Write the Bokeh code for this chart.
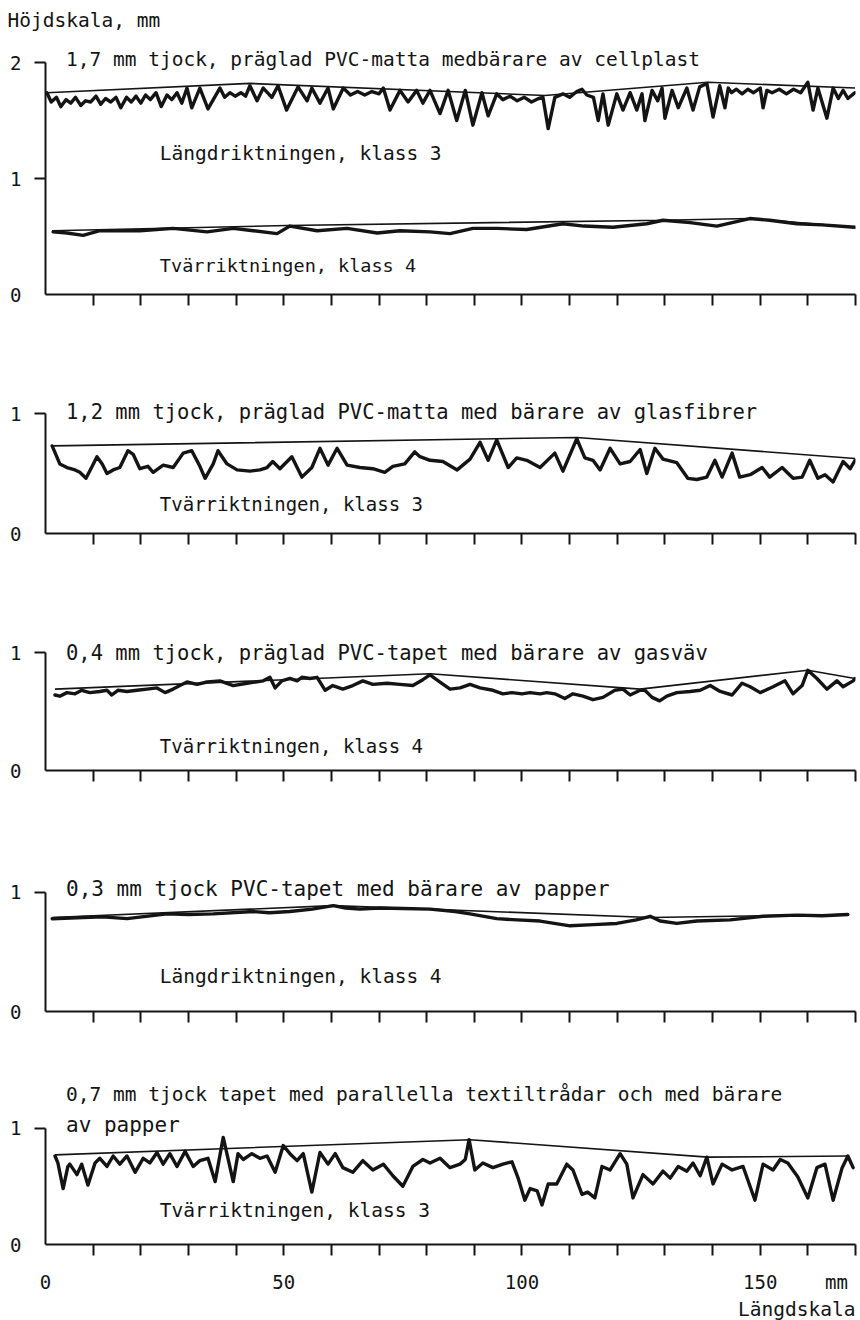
from bokeh.plotting import figure
from bokeh.models import Range1d, LinearAxis, FixedTicker, Label, Title
from bokeh.layouts import column
from bokeh.embed import file_html
from bokeh.resources import INLINE

INK = "#141414"
FONT = "DejaVu Sans Mono"
FS = "19px"

# ---------------------------------------------------------------------------
# Profile data: (length along sample in mm, height in mm)
# ---------------------------------------------------------------------------

# 1,7 mm PVC mat with foam backing - lengthwise profile (class 3)
mat17_long = [(0.3,1.74),(1.2,1.66),(2.3,1.70),(3.2,1.62),(4.3,1.68),(5.3,1.65),(6.3,1.70),(7.4,1.63),
    (8.4,1.67),(9.5,1.66),(10.6,1.71),(11.6,1.64),(12.6,1.69),(13.7,1.66),(14.8,1.70),(15.8,1.61),
    (17.0,1.70),(18.0,1.66),(19.0,1.71),(20.0,1.65),(21.0,1.72),(22.0,1.68),(23.2,1.74),(24.3,1.62),
    (25.5,1.72),(26.5,1.68),(27.6,1.74),(28.6,1.65),(29.7,1.78),(30.7,1.61),(32.4,1.78),(34.1,1.60),
    (36.6,1.78),(37.6,1.70),(38.7,1.74),(39.8,1.71),(41.0,1.74),(42.0,1.71),(42.9,1.80),(44.4,1.67),
    (45.7,1.78),(47.5,1.70),(48.8,1.80),(50.6,1.59),(53.0,1.79),(54.9,1.67),(55.9,1.78),(57.6,1.65),
    (59.3,1.78),(60.4,1.60),(62.5,1.78),(64.0,1.72),(65.5,1.75),(67.0,1.72),(68.5,1.75),(70.0,1.73),
    (70.9,1.78),(72.3,1.59),(74.4,1.76),(76.1,1.66),(77.9,1.76),(79.2,1.65),(80.7,1.76),(82.8,1.56),
    (84.5,1.76),(86.3,1.50),(88.1,1.76),(89.7,1.46),(91.6,1.74),(92.9,1.54),(94.7,1.73),(96.0,1.68),
    (97.5,1.71),(99.0,1.67),(100.5,1.70),(102.0,1.66),(103.5,1.69),(104.4,1.70),(105.5,1.43),(106.9,1.70),
    (108.6,1.73),(110.0,1.70),(111.5,1.75),(112.6,1.77),(113.6,1.72),(115.0,1.70),(116.0,1.50),(117.0,1.73),
    (118.1,1.46),(119.9,1.73),(121.2,1.59),(122.7,1.74),(124.1,1.59),(125.2,1.73),(125.8,1.50),(127.3,1.76),
    (128.5,1.67),(129.4,1.78),(130.0,1.52),(131.5,1.76),(132.8,1.61),(134.6,1.78),(135.9,1.59),(137.3,1.79),
    (138.8,1.82),(140.1,1.53),(141.5,1.80),(142.6,1.61),(143.3,1.78),(144.0,1.74),(145.0,1.77),(146.2,1.73),
    (147.4,1.77),(148.6,1.74),(150.0,1.78),(150.6,1.61),(151.4,1.76),(152.5,1.74),(154.0,1.77),(155.5,1.73),
    (157.0,1.77),(158.5,1.74),(160.0,1.83),(161.1,1.59),(162.1,1.78),(164.0,1.52),(165.3,1.78),(166.4,1.69),
    (167.4,1.76),(168.4,1.69),(169.9,1.74)]
mat17_long_env = [(0.3,1.74),(42.9,1.82),(104.8,1.716),(139.0,1.83),(169.9,1.78)]

# 1,7 mm PVC mat - crosswise profile (class 4)
mat17_cross = [(1.6,0.54),(4.5,0.53),(7.9,0.51),(11.4,0.55),(19.8,0.55),(26.8,0.57),(33.9,0.54),
    (39.4,0.57),(43.6,0.55),(48.6,0.525),(51.3,0.59),(57.0,0.55),(63.3,0.57),(69.6,0.53),(74.4,0.55),
    (80.7,0.54),(84.9,0.525),(89.7,0.57),(94.7,0.57),(101.0,0.56),(108.6,0.61),(113.0,0.59),(119.1,0.58),
    (126.2,0.61),(129.6,0.64),(135.3,0.62),(140.9,0.59),(147.8,0.655),(152.0,0.64),(157.7,0.61),
    (163.0,0.60),(169.9,0.58)]
mat17_cross_env = [(1.4,0.55),(50.7,0.595),(129.6,0.64),(147.8,0.655),(169.9,0.58)]

# 1,2 mm PVC mat with glass fibre backing - crosswise (class 3)
mat12_cross = [(1.4,0.73),(3.0,0.58),(4.5,0.55),(6.2,0.53),(7.2,0.51),(8.5,0.46),(9.8,0.56),(10.8,0.64),
    (11.9,0.58),(12.9,0.50),(14.2,0.53),(15.6,0.55),(17.3,0.69),(18.4,0.66),(19.8,0.54),(21.5,0.56),
    (22.6,0.51),(24.7,0.57),(26.8,0.55),(28.9,0.67),(30.7,0.69),(32.4,0.56),(33.5,0.46),(35.2,0.58),
    (36.2,0.69),(38.1,0.58),(40.2,0.53),(42.9,0.52),(45.0,0.53),(46.5,0.55),(47.7,0.60),(49.2,0.54),
    (51.7,0.64),(53.8,0.47),(55.9,0.55),(57.6,0.71),(59.3,0.57),(61.2,0.71),(63.3,0.57),(66.0,0.55),
    (68.7,0.54),(71.2,0.51),(72.9,0.56),(75.4,0.58),(77.5,0.68),(78.6,0.64),(80.7,0.61),(83.4,0.60),
    (86.4,0.53),(89.1,0.62),(91.2,0.76),(92.9,0.61),(94.7,0.78),(97.1,0.55),(98.9,0.63),(101.0,0.61),
    (103.8,0.55),(106.9,0.67),(108.6,0.52),(111.5,0.79),(113.2,0.63),(114.9,0.61),(116.4,0.53),(118.5,0.71),
    (120.6,0.58),(122.7,0.60),(124.8,0.70),(126.2,0.50),(127.9,0.71),(129.6,0.62),(132.5,0.59),(134.8,0.46),
    (136.7,0.45),(138.8,0.47),(140.5,0.61),(142.0,0.47),(144.1,0.67),(145.7,0.47),(147.9,0.49),(150.4,0.55),
    (152.0,0.47),(154.6,0.55),(156.9,0.46),(158.8,0.47),(160.4,0.61),(162.1,0.46),(163.6,0.49),(165.3,0.43),
    (167.4,0.60),(168.9,0.54),(169.9,0.61)]
mat12_cross_env = [(1.4,0.73),(94.7,0.79),(111.5,0.80),(169.9,0.625)]

# 0,4 mm PVC wallcovering with scrim backing - crosswise (class 4)
wall04_cross = [(2.0,0.64),(3.0,0.63),(4.5,0.66),(6.2,0.65),(7.6,0.68),(9.3,0.66),(11.4,0.67),(12.9,0.68),
    (13.9,0.64),(15.2,0.68),(17.1,0.67),(19.2,0.68),(21.3,0.69),(23.4,0.70),(25.1,0.66),(26.8,0.69),
    (28.2,0.72),(29.7,0.75),(31.8,0.73),(33.9,0.75),(36.6,0.76),(39.4,0.72),(42.3,0.74),(45.7,0.76),
    (47.1,0.79),(48.2,0.70),(49.6,0.76),(51.3,0.78),(52.8,0.76),(53.8,0.79),(55.5,0.78),(57.0,0.79),
    (58.7,0.68),(60.3,0.72),(62.4,0.69),(64.5,0.72),(66.6,0.76),(68.7,0.73),(71.7,0.74),(74.4,0.73),
    (77.1,0.72),(79.2,0.77),(80.7,0.81),(82.8,0.75),(84.9,0.69),(87.0,0.70),(89.1,0.73),(91.2,0.70),
    (93.9,0.68),(96.0,0.65),(97.9,0.66),(100.0,0.65),(101.7,0.66),(103.8,0.65),(105.2,0.66),(106.9,0.65),
    (109.0,0.61),(110.7,0.65),(112.8,0.63),(114.9,0.60),(117.0,0.62),(119.5,0.68),(121.2,0.69),(122.7,0.64),
    (124.8,0.68),(125.8,0.68),(127.3,0.62),(128.9,0.59),(130.4,0.63),(132.5,0.66),(135.3,0.67),(137.4,0.68),
    (139.5,0.72),(141.6,0.67),(144.1,0.64),(146.2,0.74),(147.9,0.71),(150.0,0.66),(152.7,0.71),(155.2,0.76),
    (156.9,0.65),(158.8,0.72),(160.0,0.85),(161.9,0.78),(164.0,0.69),(166.1,0.76),(167.4,0.71),(169.5,0.76),
    (169.9,0.78)]
wall04_cross_env = [(2.0,0.69),(80.7,0.82),(124.8,0.69),(160.0,0.85),(169.9,0.78)]

# 0,3 mm PVC wallcovering with paper backing - lengthwise (class 4)
wall03_long = [(1.4,0.78),(7.9,0.79),(12.0,0.795),(17.1,0.78),(25.5,0.82),(30.0,0.815),(35.2,0.82),
    (43.6,0.84),(47.0,0.83),(51.3,0.84),(56.0,0.86),(60.4,0.89),(63.0,0.87),(66.0,0.86),(70.2,0.87),
    (75.0,0.865),(80.7,0.86),(86.0,0.84),(89.1,0.82),(94.7,0.78),(99.0,0.77),(103.8,0.76),(110.1,0.72),
    (115.0,0.73),(119.9,0.74),(124.0,0.77),(126.9,0.80),(129.0,0.76),(132.5,0.74),(136.7,0.76),
    (143.7,0.77),(150.6,0.80),(157.7,0.81),(163.0,0.805),(168.4,0.815)]
wall03_long_env = [(1.4,0.79),(60.4,0.89),(126.9,0.79),(168.4,0.815)]

# 0,7 mm wallcovering with parallel textile threads - crosswise (class 3)
wall07_cross = [(2.0,0.76),(2.6,0.70),(3.7,0.48),(4.7,0.67),(5.1,0.69),(6.6,0.60),(7.6,0.69),(8.9,0.51),
    (10.4,0.70),(11.4,0.74),(12.9,0.67),(14.2,0.76),(15.6,0.69),(17.1,0.76),(18.8,0.62),(20.5,0.74),
    (21.9,0.70),(23.4,0.79),(24.7,0.69),(26.1,0.78),(27.6,0.67),(29.3,0.80),(31.0,0.67),(32.4,0.72),
    (34.1,0.74),(35.6,0.54),(37.3,0.92),(39.4,0.54),(40.4,0.78),(41.5,0.73),(43.3,0.78),(45.0,0.74),
    (46.5,0.76),(48.2,0.62),(49.9,0.85),(51.3,0.78),(52.8,0.72),(54.1,0.78),(55.9,0.45),(57.6,0.79),
    (59.3,0.69),(60.8,0.78),(62.4,0.66),(64.5,0.62),(66.6,0.72),(68.7,0.64),(70.9,0.69),(72.9,0.59),
    (75.0,0.50),(77.1,0.67),(79.2,0.73),(80.7,0.70),(82.8,0.74),(84.9,0.66),(87.0,0.69),(88.1,0.73),
    (88.9,0.90),(90.1,0.64),(91.8,0.70),(93.9,0.66),(96.0,0.69),(97.9,0.71),(99.2,0.57),(100.6,0.38),
    (101.7,0.48),(103.2,0.46),(104.2,0.34),(105.5,0.52),(107.3,0.52),(109.4,0.69),(110.7,0.64),(112.6,0.43),
    (113.8,0.45),(115.3,0.40),(116.8,0.67),(118.5,0.64),(120.6,0.78),(122.0,0.69),(123.3,0.40),(125.4,0.60),
    (127.5,0.52),(129.6,0.63),(131.1,0.57),(132.8,0.67),(134.6,0.63),(135.9,0.70),(137.4,0.59),(138.8,0.75),
    (140.1,0.52),(142.0,0.69),(144.1,0.64),(146.4,0.67),(148.9,0.38),(150.6,0.69),(152.7,0.64),(154.2,0.73),
    (155.8,0.70),(157.9,0.58),(160.0,0.40),(161.9,0.66),(163.6,0.69),(165.3,0.38),(167.2,0.66),(168.4,0.76),
    (169.5,0.66)]
wall07_cross_env = [(2.0,0.77),(89.1,0.90),(139.0,0.75),(168.4,0.76)]

x_label_ticks = [0, 50, 100, 150]
x_small_ticks = [10, 20, 30, 40, 50, 60, 70, 80, 90, 100, 110, 120, 130, 140, 150, 160, 170]
unit_tick = 166          # where the "mm" unit sits in the tick-label row


def panel(height, border_top, border_bottom, y_end, y_top_tick, bottom_labels=False):
    p = figure(width=860, height=height, x_range=Range1d(0, 170), y_range=Range1d(0, y_end),
               x_axis_type=None, y_axis_type=None, output_backend="svg", toolbar_location=None,
               min_border_left=45, min_border_right=5,
               min_border_top=border_top, min_border_bottom=border_bottom)
    p.outline_line_color = None
    p.background_fill_color = "white"
    p.border_fill_color = "white"

    if bottom_labels:
        xt = FixedTicker(ticks=x_label_ticks + [unit_tick], minor_ticks=x_small_ticks)
    else:
        xt = FixedTicker(ticks=[], minor_ticks=x_small_ticks)
    xa = LinearAxis(ticker=xt, bounds=(0, 170))
    if bottom_labels:
        xa.major_label_overrides = {unit_tick: "mm"}
    ya_ticks = list(range(0, y_top_tick + 1))
    ya = LinearAxis(ticker=FixedTicker(ticks=ya_ticks, minor_ticks=ya_ticks[1:]),
                    bounds=(0, y_top_tick))
    for ax in (xa, ya):
        ax.axis_line_color = INK
        ax.axis_line_width = 2
        ax.major_tick_in = 0
        ax.major_tick_out = 0
        ax.minor_tick_in = 0
        ax.minor_tick_out = 11
        ax.minor_tick_line_color = INK
        ax.minor_tick_line_width = 2
        ax.major_label_text_font = FONT
        ax.major_label_text_font_size = FS
        ax.major_label_text_color = INK
    xa.major_label_standoff = 15
    ya.major_label_standoff = 13
    p.add_layout(xa, "below")
    p.add_layout(ya, "left")
    return p


def profile(p, pts, env):
    xs, ys = zip(*pts)
    ex, ey = zip(*env)
    p.line(list(ex), list(ey), line_color=INK, line_width=1.6)
    p.line(list(xs), list(ys), line_color=INK, line_width=3.4, line_join="round", line_cap="round")


def note(p, x, y, text, size="19.5px", align="left"):
    p.add_layout(Label(x=x, y=y, text=text, text_font=FONT, text_font_size=size,
                       text_color=INK, text_baseline="middle", text_align=align))


TX = 4.3     # left edge of the sample captions
SX = 24.0    # left edge of the direction / class captions

p1 = panel(330, 32, 36, 2.259, 2)
p1.add_layout(Title(text="Höjdskala, mm", align="left", offset=-38, standoff=2,
                    text_font=FONT, text_font_size="19.5px", text_font_style="normal",
                    text_color=INK), "above")
profile(p1, mat17_long, mat17_long_env)
profile(p1, mat17_cross, mat17_cross_env)
note(p1, TX, 2.03, "1,7 mm tjock, präglad PVC-matta medbärare av cellplast", "19.5px")
note(p1, SX, 1.22, "Längdriktningen, klass 3", "19.5px")
note(p1, SX, 0.25, "Tvärriktningen, klass 4", "18.5px")

p2 = panel(230, 15, 27, 1.567, 1)
profile(p2, mat12_cross, mat12_cross_env)
note(p2, TX, 1.01, "1,2 mm tjock, präglad PVC-matta med bärare av glasfibrer", "20.5px")
note(p2, SX, 0.25, "Tvärriktningen, klass 3", "19px")

p3 = panel(240, 15, 30, 1.653, 1)
profile(p3, wall04_cross, wall04_cross_env)
note(p3, TX, 1.0, "0,4 mm tjock, präglad PVC-tapet med bärare av gasväv", "20.5px")
note(p3, SX, 0.21, "Tvärriktningen, klass 4", "19px")

p4 = panel(240, 15, 29, 1.647, 1)
profile(p4, wall03_long, wall03_long_env)
note(p4, TX, 1.03, "0,3 mm tjock PVC-tapet med bärare av papper", "21px")
note(p4, SX, 0.29, "Längdriktningen, klass 4", "19.5px")

p5 = panel(280, 20, 72, 1.580, 1, bottom_labels=True)
p5.add_layout(Title(text="Längdskala", align="right", standoff=0,
                    text_font=FONT, text_font_size="19.5px", text_font_style="normal",
                    text_color=INK), "below")
profile(p5, wall07_cross, wall07_cross_env)
note(p5, TX, 1.29, "0,7 mm tjock tapet med parallella textiltrådar och med bärare", "19.5px")
note(p5, TX, 1.03, "av papper", "21px")
note(p5, SX, 0.29, "Tvärriktningen, klass 3", "19.5px")

layout = column(p1, p2, p3, p4, p5, spacing=0)
open("out.html", "w").write(file_html(layout, INLINE))
